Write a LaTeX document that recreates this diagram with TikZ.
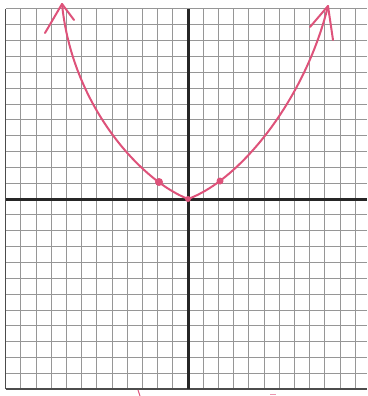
\documentclass[tikz,border=0pt]{standalone}
\usetikzlibrary{calc}
\definecolor{pen}{RGB}{222,82,122}
\definecolor{gridc}{RGB}{150,150,150}
\tikzset{
  gridline/.style={draw=gridc, line width=0.8pt},
  axisline/.style={draw=black!85, line width=3pt},
  edgeline/.style={draw=black!70, line width=1.6pt},
  penline/.style={draw=pen, line width=2pt, line cap=round, line join=round},
  pendot/.style={fill=pen}
}
\begin{document}
\begin{tikzpicture}[x=1pt,y=-1pt]
\useasboundingbox (0,0) rectangle (367,396);
% vertical grid lines
\foreach \k in {-12,...,11} {
  \draw[gridline] ({188+\k*15.2},8.8) -- ({188+\k*15.2},389.2);
}
% horizontal grid lines
\foreach \k in {-12,...,12} {
  \draw[gridline] (5.6,{199+\k*15.85}) -- (367,{199+\k*15.85});
}
% borders
\draw[edgeline] (5.6,8.8) -- (5.6,389.2);
\draw[edgeline] (5.6,389.2) -- (367,389.2);
% axes
\draw[axisline] (5.6,199) -- (367,199);
\draw[axisline] (188,8.8) -- (188,389.2);
% parabola
\coordinate (v) at (188,199);
\coordinate (ltip) at (62,4);
\coordinate (rtip) at (328,6);
\draw[penline] (v) .. controls (140,180) and (72,105) .. (ltip);
\draw[penline] (v) .. controls (240,180) and (305,100) .. (rtip);
% arrowheads
\draw[penline] (45,33) -- (ltip) -- (74,20);
\draw[penline] (310,27) -- (rtip) -- (333,40);
% points
\fill[pendot] (159,182) circle (4);
\fill[pendot] (220,181) circle (3.5);
\fill[pendot] (v) circle (3);
% small marks at bottom
\draw[draw=pen, line width=1pt] (138,390) -- (140,396);
\draw[draw=pen!60, line width=1pt] (270,394) -- (276,394);
\end{tikzpicture}
\end{document}
